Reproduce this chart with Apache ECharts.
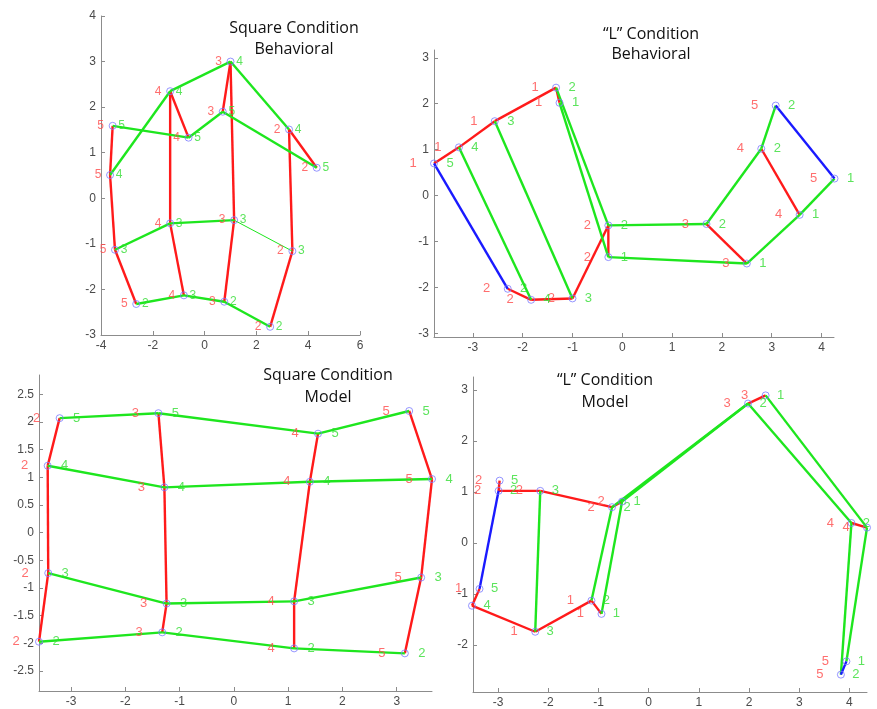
<!DOCTYPE html>
<html>
<head>
<meta charset="utf-8">
<script src="https://cdn.jsdelivr.net/npm/echarts@6/dist/echarts.min.js"></script>
<style>html,body{margin:0;padding:0;background:#fff}#c{width:877px;height:709px}</style>
</head>
<body>
<div id="c"></div>
<script>
// ---------- Panel 1: Square Condition, Behavioral ----------
const P1_X = [1.0, -1.33, 0.7, -0.62, -3.55, -3.65, 3.26, 4.33, -1.33, 1.14, -3.46, 3.39, -2.64, -0.8, 0.76, 2.53];
const P1_Y = [3.0, 2.35, 1.9, 1.33, 1.59, 0.51, 1.51, 0.67, -0.55, -0.48, -1.13, -1.16, -2.32, -2.13, -2.27, -2.82];
const P1_RED_TXT   = ['3','4','3','4','5','5','2','2','4','3','5','2','5','4','3','2'];
const P1_GREEN_TXT = ['4','4','5','5','5','4','4','5','3','3','3','3','2','3','2','2'];
const P1_RED_EDGES   = [[1,3],[2,0],[6,7],[4,5],[5,10],[10,12],[1,8],[8,13],[0,9],[9,14],[6,11],[11,15]];
const P1_GREEN_EDGES = [[5,1],[1,0],[0,6],[4,3],[3,2],[2,7],[10,8],[8,9],[12,13],[13,14],[14,15]];
const P1_THIN_EDGES  = [[9,11]];
const P1_BLUE_EDGES  = [];
const P1_XTICKS = [-4,-2,0,2,4,6];
const P1_YTICKS = [-3,-2,-1,0,1,2,3,4];

// ---------- Panel 2: "L" Condition, Behavioral ----------
const P2_X = [-3.78, -3.28, -2.56, -1.33, -1.26, -2.30, -1.83, -1.0, -0.28, -0.28, 1.69, 2.50, 2.79, 3.08, 4.26, 3.56];
const P2_Y = [0.70, 1.05, 1.62, 2.35, 2.02, -2.03, -2.27, -2.24, -0.65, -1.34, -0.62, -1.48, 1.02, 1.96, 0.37, -0.42];
const P2_RED_TXT   = ['1','1','1','1','1','2','2','2','2','2','3','3','4','5','5','4'];
const P2_GREEN_TXT = ['5','4','3','2','1','2','4','3','2','1','2','1','2','2','1','1'];
const P2_RED_EDGES   = [[0,1],[1,2],[2,3],[3,4],[5,6],[6,7],[7,8],[8,9],[10,11],[12,15]];
const P2_GREEN_EDGES = [[1,6],[2,7],[3,8],[4,9],[8,10],[9,11],[10,12],[12,13],[14,15],[15,11]];
const P2_THIN_EDGES  = [];
const P2_BLUE_EDGES  = [[0,5],[13,14]];
const P2_XTICKS = [-3,-2,-1,0,1,2,3,4];
const P2_YTICKS = [-3,-2,-1,0,1,2,3];

// ---------- Panel 3: Square Condition, Model ----------
const P3_X = [-3.21, -1.39, 1.55, 3.23, -3.43, -1.28, 1.40, 3.65, -3.42, -1.24, 1.11, 3.45, -3.59, -1.32, 1.11, 3.15];
const P3_Y = [2.07, 2.16, 1.79, 2.20, 1.21, 0.82, 0.92, 0.97, -0.73, -1.28, -1.24, -0.81, -1.97, -1.80, -2.09, -2.18];
const P3_RED_TXT   = ['2','3','4','5','2','3','4','5','2','3','4','5','2','3','4','5'];
const P3_GREEN_TXT = ['5','5','5','5','4','4','4','4','3','3','3','3','2','2','2','2'];
const P3_RED_EDGES   = [[0,4],[4,8],[8,12],[1,5],[5,9],[9,13],[2,6],[6,10],[10,14],[3,7],[7,11],[11,15]];
const P3_GREEN_EDGES = [[0,1],[1,2],[2,3],[4,5],[5,6],[6,7],[8,9],[9,10],[10,11],[12,13],[13,14],[14,15]];
const P3_THIN_EDGES  = [];
const P3_BLUE_EDGES  = [];
const P3_XTICKS = [-3,-2,-1,0,1,2,3];
const P3_YTICKS = [-2.5,-2,-1.5,-1,-0.5,0,0.5,1,1.5,2,2.5];

// ---------- Panel 4: "L" Condition, Model ----------
const P4_X = [-2.97, -2.99, -2.16, -0.73, -0.53, 2.33, 1.98, 4.04, 4.35, 3.94, 3.83, -3.37, -3.52, -2.26, -1.14, -0.94];
const P4_Y = [1.22, 1.02, 1.02, 0.70, 0.81, 2.89, 2.73, 0.39, 0.30, -2.32, -2.58, -0.90, -1.23, -1.74, -1.13, -1.39];
const P4_RED_TXT   = ['2','2','2','2','2','3','3','4','4','5','5','1','','1','1','1'];
const P4_GREEN_TXT = ['5','2','3','2','1','1','2','2','','1','2','5','4','3','2','1'];
const P4_RED_EDGES   = [[0,1],[1,2],[2,3],[3,4],[6,5],[7,8],[11,12],[12,13],[13,14],[14,15]];
const P4_GREEN_EDGES = [[2,13],[3,14],[4,15],[3,6],[4,6],[5,8],[6,7],[7,10],[8,9]];
const P4_THIN_EDGES  = [];
const P4_BLUE_EDGES  = [[1,11],[9,10]];
const P4_XTICKS = [-3,-2,-1,0,1,2,3,4];
const P4_YTICKS = [-2,-1,0,1,2,3];

const TITLES = [
  ['Square Condition', 'Behavioral'],
  ['\u201CL\u201D Condition', 'Behavioral'],
  ['Square Condition', 'Model'],
  ['\u201CL\u201D Condition', 'Model']
];

// ---------- layout / styles ----------
const panels = [
  {X:P1_X,Y:P1_Y,red:P1_RED_TXT,green:P1_GREEN_TXT,re:P1_RED_EDGES,ge:P1_GREEN_EDGES,te:P1_THIN_EDGES,be:P1_BLUE_EDGES,xt:P1_XTICKS,yt:P1_YTICKS,
   grid:{left:101,top:16,width:259,height:319}, xr:[-4,6], yr:[-3,4], ro:-12, go:9, fs:12, title:[294,28,49]},
  {X:P2_X,Y:P2_Y,red:P2_RED_TXT,green:P2_GREEN_TXT,re:P2_RED_EDGES,ge:P2_GREEN_EDGES,te:P2_THIN_EDGES,be:P2_BLUE_EDGES,xt:P2_XTICKS,yt:P2_YTICKS,
   grid:{left:434,top:50,width:400,height:287}, xr:[-3.78,4.25], yr:[-3.08,3.17], ro:-21, go:16, fs:13, title:[651,34,54]},
  {X:P3_X,Y:P3_Y,red:P3_RED_TXT,green:P3_GREEN_TXT,re:P3_RED_EDGES,ge:P3_GREEN_EDGES,te:P3_THIN_EDGES,be:P3_BLUE_EDGES,xt:P3_XTICKS,yt:P3_YTICKS,
   grid:{left:39,top:375,width:393,height:316}, xr:[-3.59,3.65], yr:[-2.86,2.85], ro:-23, go:17, fs:13, title:[328,375,397]},
  {X:P4_X,Y:P4_Y,red:P4_RED_TXT,green:P4_GREEN_TXT,re:P4_RED_EDGES,ge:P4_GREEN_EDGES,te:P4_THIN_EDGES,be:P4_BLUE_EDGES,xt:P4_XTICKS,yt:P4_YTICKS,
   grid:{left:473,top:377,width:394,height:315}, xr:[-3.5,4.35], yr:[-2.92,3.25], ro:-21, go:15, fs:13, title:[605,380,402]}
];

const RED='#ff1a1a', GREEN='#1ee61e', BLUE='#1a1aff';
const RED_TXT='#ff4a4a', GREEN_TXT='#33dd33';
const AXIS_COLOR='#8c8c8c';

const grids=[], xAxes=[], yAxes=[], series=[], graphics=[];
function axisCommon(ticks){
  return {
    type:'value', splitLine:{show:false},
    axisLine:{show:true, onZero:false, lineStyle:{color:AXIS_COLOR,width:1}},
    axisTick:{show:true, inside:true, length:4, lineStyle:{color:AXIS_COLOR}, customValues:ticks},
    axisLabel:{color:'#4a4a4a', fontSize:12, fontFamily:'Liberation Sans, Arial, sans-serif', margin:5, customValues:ticks}
  };
}
panels.forEach((p,k)=>{
  grids.push(Object.assign({containLabel:false}, p.grid));
  xAxes.push(Object.assign(axisCommon(p.xt), {gridIndex:k, min:p.xr[0], max:p.xr[1]}));
  yAxes.push(Object.assign(axisCommon(p.yt), {gridIndex:k, min:p.yr[0], max:p.yr[1]}));
  const addEdges=(edges,color,width)=>{
    edges.forEach(e=>{
      series.push({type:'line', xAxisIndex:k, yAxisIndex:k, clip:false, silent:true, animation:false,
        showSymbol:false, symbol:'none', z:2,
        lineStyle:{color:color,width:width},
        data:[[p.X[e[0]],p.Y[e[0]]],[p.X[e[1]],p.Y[e[1]]]]});
    });
  };
  addEdges(p.re,RED,2.4);
  addEdges(p.ge,GREEN,2.4);
  addEdges(p.te,GREEN,1);
  addEdges(p.be,BLUE,2.4);
  // node markers
  series.push({type:'scatter', xAxisIndex:k, yAxisIndex:k, clip:false, silent:true, animation:false, z:3,
    symbol:'circle', symbolSize:7,
    itemStyle:{color:'rgba(0,0,0,0)', borderColor:'#7a7aff', borderWidth:1},
    data:p.X.map((x,i)=>[x,p.Y[i]])});
  // number labels
  const mkLabels=(txt,off,color)=>{
    series.push({type:'scatter', xAxisIndex:k, yAxisIndex:k, clip:false, silent:true, animation:false, z:4,
      symbol:'circle', symbolSize:1, itemStyle:{color:'rgba(0,0,0,0)'},
      label:{show:true, position:'inside', offset:[off,0], color:color, fontSize:p.fs,
        fontFamily:'Liberation Sans, Arial, sans-serif', formatter:(d)=>d.value[2]},
      data:p.X.map((x,i)=>[x,p.Y[i],txt[i]]).filter(d=>d[2]!=='')});
  };
  mkLabels(p.red,p.ro,RED_TXT);
  mkLabels(p.green,p.go,GREEN_TXT);
  // titles
  graphics.push({type:'text', x:p.title[0], y:p.title[1], z:10,
    style:{text:TITLES[k][0], textAlign:'center', textVerticalAlign:'middle', fill:'#111', font:'16px "Open Sans", sans-serif'}});
  graphics.push({type:'text', x:p.title[0], y:p.title[2], z:10,
    style:{text:TITLES[k][1], textAlign:'center', textVerticalAlign:'middle', fill:'#111', font:'16px "Open Sans", sans-serif'}});
});

const chart = echarts.init(document.getElementById('c'), null, {renderer:'canvas'});
chart.setOption({
  animation:false,
  backgroundColor:'#ffffff',
  grid:grids, xAxis:xAxes, yAxis:yAxes, series:series, graphic:graphics
});
</script>
</body>
</html>
